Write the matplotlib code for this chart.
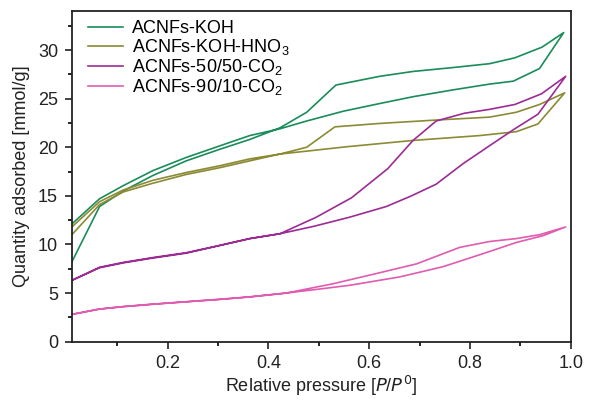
import matplotlib.pyplot as plt

plt.rcParams['font.family'] = ['Liberation Sans', 'DejaVu Sans']
plt.rcParams['mathtext.default'] = 'regular'

# ACNFs-KOH (adsorption up, desorption back down)
koh_x = [0.01, 0.065, 0.112, 0.171, 0.237, 0.304, 0.363, 0.423, 0.476, 0.534, 0.621, 0.687,
         0.766, 0.839, 0.889, 0.943, 0.986,
         0.938, 0.886, 0.839, 0.766, 0.687, 0.621, 0.548, 0.476, 0.423, 0.363, 0.304,
         0.237, 0.171, 0.112, 0.065, 0.01]
koh_y = [8.2, 13.9, 15.5, 17.1, 18.6, 19.8, 20.8, 22.0, 23.6, 26.4, 27.3, 27.8,
         28.2, 28.6, 29.2, 30.3, 31.8,
         28.1, 26.8, 26.5, 25.9, 25.2, 24.5, 23.7, 22.7, 21.9, 21.2, 20.15,
         18.95, 17.6, 16.05, 14.7, 12.1]

# ACNFs-KOH-HNO3
hno3_x = [0.01, 0.065, 0.112, 0.171, 0.237, 0.304, 0.363, 0.423, 0.476, 0.532, 0.621, 0.733,
          0.839, 0.892, 0.938, 0.988,
          0.935, 0.892, 0.819, 0.687, 0.555, 0.476, 0.423, 0.363, 0.304, 0.237, 0.171,
          0.112, 0.065, 0.01]
hno3_y = [11.0, 14.1, 15.4, 16.3, 17.2, 17.9, 18.6, 19.3, 20.0, 22.1, 22.45, 22.8,
          23.1, 23.6, 24.4, 25.6,
          22.4, 21.6, 21.2, 20.7, 20.05, 19.6, 19.3, 18.8, 18.1, 17.4, 16.6,
          15.6, 14.4, 11.8]

# ACNFs-50/50-CO2
co50_x = [0.01, 0.065, 0.112, 0.171, 0.237, 0.304, 0.363, 0.423, 0.489, 0.561, 0.634, 0.684,
          0.733, 0.786, 0.843, 0.889, 0.935, 0.99,
          0.942, 0.889, 0.839, 0.789, 0.733, 0.687, 0.637, 0.565, 0.495, 0.423, 0.363,
          0.304, 0.237, 0.171, 0.112, 0.065, 0.01]
co50_y = [6.3, 7.6, 8.1, 8.6, 9.1, 9.9, 10.6, 11.1, 11.85, 12.8, 13.9, 15.0,
          16.2, 18.3, 20.3, 21.9, 23.4, 27.3,
          25.5, 24.4, 23.9, 23.5, 22.7, 20.7, 17.8, 14.8, 12.8, 11.1, 10.6,
          9.9, 9.15, 8.65, 8.15, 7.65, 6.3]

# ACNFs-90/10-CO2
co90_x = [0.01, 0.065, 0.112, 0.171, 0.237, 0.304, 0.363, 0.436, 0.5, 0.562, 0.66, 0.746,
          0.826, 0.892, 0.945, 0.99,
          0.938, 0.892, 0.839, 0.78, 0.694, 0.614, 0.528, 0.436, 0.363, 0.304, 0.237,
          0.171, 0.112, 0.065, 0.01]
co90_y = [2.8, 3.35, 3.6, 3.85, 4.1, 4.35, 4.6, 5.0, 5.4, 5.8, 6.65, 7.7,
          9.05, 10.2, 10.9, 11.8,
          11.0, 10.6, 10.3, 9.7, 8.0, 7.0, 5.95, 5.0, 4.6, 4.35, 4.1,
          3.85, 3.6, 3.35, 2.8]

labels = ['ACNFs-KOH', 'ACNFs-KOH-HNO$_3$', 'ACNFs-50/50-CO$_2$', 'ACNFs-90/10-CO$_2$']
colors = ['#1a8c5a', '#8b8a35', '#9c2c94', '#e05cb0']

fig = plt.figure(figsize=(5.89, 4.0), dpi=100)
ax = fig.add_axes([0.122, 0.146, 0.847, 0.826])

ax.plot(koh_x, koh_y, color=colors[0], lw=1.2, label=labels[0])
ax.plot(hno3_x, hno3_y, color=colors[1], lw=1.2, label=labels[1])
ax.plot(co50_x, co50_y, color=colors[2], lw=1.2, label=labels[2])
ax.plot(co90_x, co90_y, color=colors[3], lw=1.2, label=labels[3])

ax.set_xlim(0.01, 1.0)
ax.set_ylim(0, 34)
ax.set_xticks([0.2, 0.4, 0.6, 0.8, 1.0])
ax.set_xticks([0.1, 0.3, 0.5, 0.7, 0.9], minor=True)
ax.set_yticks([0, 5, 10, 15, 20, 25, 30])
ax.set_yticks([2.5, 7.5, 12.5, 17.5, 22.5, 27.5, 32.5], minor=True)
ax.tick_params(which='major', direction='out', length=5, width=1.2, labelsize=13,
               colors='#222222', pad=5)
ax.tick_params(which='minor', direction='out', length=3, width=1.2)
for s in ax.spines.values():
    s.set_linewidth(1.3)
    s.set_color('#222222')

ax.set_xlabel('Relative pressure [$\\it{P}$/$\\it{P}^0$]', fontsize=13, color='#222222',
              labelpad=1)
ax.set_ylabel('Quantity adsorbed [mmol/g]', fontsize=13, color='#222222', labelpad=6)

ax.legend(loc='upper left', frameon=False, fontsize=13, handlelength=1.9,
          handletextpad=0.5, labelspacing=0.0, borderaxespad=0.1,
          bbox_to_anchor=(0.015, 1.0))

fig.savefig('out.png', dpi=100)
